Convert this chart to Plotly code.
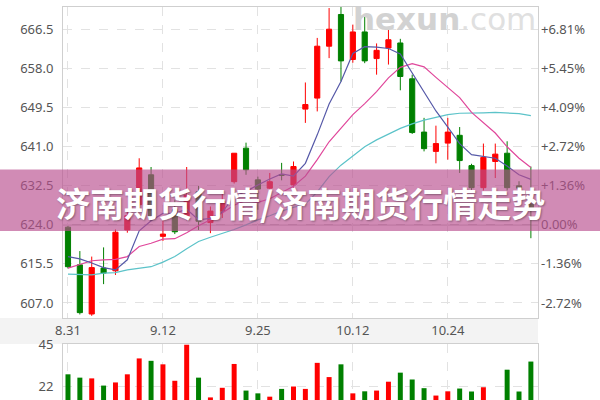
import plotly.graph_objects as go

# ---------------- data ----------------
tick_index = [0, 8, 16, 24, 32]
tick_labels = ["8.31", "9.12", "9.25", "10.12", "10.24"]

opens = [623.5, 615.3, 604.6, 614.6, 614.0, 622.9, 628.4, 634.9, 621.5, 627.3,
         626.0, 631.2, 624.5, 627.0, 633.4, 640.7, 633.8, 632.0, 634.9, 632.7,
         649.2, 651.6, 662.9, 669.8, 660.0, 666.0, 660.2, 662.5, 663.6, 655.8,
         644.2, 640.0, 641.8, 643.5, 636.9, 632.1, 637.8, 639.6, 632.5, 628.5]
highs = [623.8, 618.3, 617.1, 619.1, 623.0, 627.3, 638.5, 636.6, 625.6, 629.5,
         636.6, 632.5, 628.0, 631.3, 639.6, 641.9, 634.5, 635.3, 637.5, 637.8,
         655.0, 664.7, 671.2, 672.0, 667.6, 669.8, 663.5, 666.9, 664.5, 656.7,
         647.3, 645.6, 647.3, 645.3, 637.3, 641.7, 641.7, 642.2, 633.5, 636.7]
lows = [614.5, 604.5, 604.2, 611.1, 613.1, 622.3, 627.5, 624.8, 620.5, 622.0,
        625.0, 622.9, 622.2, 625.5, 633.0, 634.9, 627.3, 631.0, 633.7, 632.0,
        646.2, 648.7, 660.3, 655.2, 659.3, 659.2, 656.7, 658.9, 653.3, 643.8,
        640.0, 637.4, 638.2, 635.3, 631.5, 631.5, 634.2, 631.5, 630.5, 621.1]
closes = [614.9, 604.9, 614.7, 613.5, 622.4, 626.0, 636.4, 625.5, 622.0, 622.5,
          630.5, 624.8, 627.0, 629.1, 639.6, 636.0, 631.8, 633.4, 634.8, 636.7,
          650.2, 662.9, 666.6, 659.7, 666.0, 659.7, 662.0, 664.3, 656.3, 644.1,
          640.6, 641.7, 644.2, 638.0, 632.1, 638.7, 639.4, 632.1, 632.0, 627.5]

ma5 = [617.1, 616.6, 615.7, 614.7, 614.2, 616.4, 622.7, 624.9, 626.5, 626.5,
       627.4, 625.1, 625.4, 626.8, 630.2, 631.3, 632.7, 634.0, 635.1, 634.6,
       637.4, 643.6, 650.3, 655.2, 661.3, 662.8, 662.7, 662.4, 661.2, 657.0,
       653.0, 648.8, 645.3, 641.7, 639.3, 638.9, 638.5, 636.8, 634.9, 633.9]
ma10 = [614.6, 615.4, 616.2, 616.4, 616.5, 617.1, 619.3, 620.0, 620.9, 621.0,
        622.3, 623.8, 625.1, 626.6, 628.3, 629.3, 628.9, 629.7, 631.0, 632.4,
        634.6, 638.2, 642.1, 645.0, 648.0, 650.4, 653.0, 656.0, 658.3, 659.1,
        658.4, 656.1, 653.8, 651.7, 648.5, 646.2, 644.0, 641.0, 638.5, 636.5]
ma20 = [613.3, 613.2, 613.1, 613.5, 613.6, 614.2, 614.5, 614.9, 615.9, 617.1,
        618.8, 620.4, 621.3, 622.1, 623.0, 624.0, 625.1, 626.0, 627.0, 627.8,
        628.5, 631.2, 634.5, 637.0, 639.0, 641.0, 642.5, 643.8, 645.0, 646.0,
        646.8, 647.4, 648.0, 648.3, 648.3, 648.4, 648.5, 648.4, 648.2, 647.8]

volumes = [28.6, 26.8, 26.4, 22.5, 24.2, 28.6, 37.2, 35.9, 34.0, 25.1,
           44.6, 26.8, 16.1, 21.3, 34.2, 19.8, 18.3, 16.5, 20.7, 22.0,
           20.7, 34.8, 27.1, 34.0, 18.3, 19.4, 19.8, 24.6, 29.5, 25.8,
           21.1, 17.1, 19.4, 20.9, 19.3, 21.6, 12.0, 31.1, 19.3, 35.5]
volume_dir = ["g", "g", "r", "g", "r", "r", "r", "g", "r", "r",
              "r", "g", "r", "r", "r", "g", "g", "r", "g", "r",
              "r", "r", "r", "g", "r", "g", "r", "r", "g", "g",
              "g", "r", "r", "g", "g", "r", "r", "g", "g", "g"]

price_ticks = [607.0, 615.5, 624.0, 632.5, 641.0, 649.5, 658.0, 666.5]
pct_labels = ["-2.72%", "-1.36%", "0.00%", "+1.36%", "+2.72%", "+4.09%", "+5.45%", "+6.81%"]
base_price = 624.0
volume_ticks = [22, 45]
title_text = "济南期货行情/济南期货行情走势"

# ---------------- styles ----------------
RED = "#ff0000"
GREEN = "#008000"
GRID = "#e2e2e2"
BORDER = "#cfcfcf"
LABEL = "#555555"
FONT = "Noto Sans"

idx = list(range(len(closes)))

fig = go.Figure()

fig.add_trace(go.Candlestick(
    x=idx, open=opens, high=highs, low=lows, close=closes,
    increasing=dict(line=dict(color=RED, width=1), fillcolor=RED),
    decreasing=dict(line=dict(color=GREEN, width=1), fillcolor=GREEN),
    whiskerwidth=0, xaxis="x", yaxis="y", showlegend=False, hoverinfo="skip"))

for vals, col in [(ma20, "#5cc3c9"), (ma10, "#e0479b"), (ma5, "#5659a8")]:
    fig.add_trace(go.Scatter(x=idx, y=vals, mode="lines",
                             line=dict(color=col, width=1.2),
                             xaxis="x", yaxis="y", showlegend=False, hoverinfo="skip"))

# invisible trace for the right percent axis
fig.add_trace(go.Scatter(x=[idx[0]], y=[base_price], mode="markers",
                         marker=dict(opacity=0), xaxis="x", yaxis="y3",
                         showlegend=False, hoverinfo="skip"))

fig.add_trace(go.Bar(x=idx, y=volumes,
                     marker=dict(color=[RED if d == "r" else GREEN for d in volume_dir], line=dict(width=0)),
                     width=0.42, xaxis="x2", yaxis="y2", showlegend=False, hoverinfo="skip"))

xdom = [63 / 600, 538 / 600]
xr = [-0.42, 39.6]
yr = [603.73, 671.5]

fig.update_layout(
    width=600, height=400, autosize=False,
    margin=dict(l=0, r=0, t=0, b=0, pad=0, autoexpand=False),
    paper_bgcolor="white", plot_bgcolor="white",
    font=dict(family=FONT, size=13, color=LABEL),
    boxgap=0.38,
    xaxis=dict(domain=xdom, range=xr, anchor="y", tickvals=tick_index, ticktext=tick_labels,
               showgrid=True, gridcolor=GRID, griddash="dash", zeroline=False, automargin=False,
               showline=True, mirror=True, linecolor=BORDER, ticks="",
               rangeslider=dict(visible=False), tickfont=dict(size=13, color=LABEL)),
    yaxis=dict(domain=[0.205, 0.9833], range=yr, anchor="x", tickvals=price_ticks,
               tickformat=".1f", showgrid=True, gridcolor=GRID, griddash="dash", automargin=False,
               zeroline=False, showline=True, mirror=True, linecolor=BORDER, ticks="",
               ticklabelstandoff=6, tickfont=dict(size=13, color=LABEL)),
    yaxis3=dict(overlaying="y", side="right", anchor="x", range=yr, tickvals=price_ticks,
                ticktext=pct_labels, showgrid=False, zeroline=False, ticks="", automargin=False,
                ticklabelstandoff=2, tickfont=dict(size=13, color=LABEL)),
    xaxis2=dict(domain=xdom, range=xr, anchor="y2", tickvals=tick_index, showticklabels=False,
                showgrid=True, gridcolor=GRID, griddash="dash", zeroline=False, automargin=False,
                showline=True, mirror=True, linecolor=BORDER, ticks=""),
    yaxis2=dict(domain=[0, 0.14], range=[14.7, 45], anchor="x2", tickvals=volume_ticks,
                showgrid=True, gridcolor=GRID, griddash="dash", zeroline=False, automargin=False,
                showline=True, mirror=True, linecolor=BORDER, ticks="",
                ticklabelstandoff=6, tickfont=dict(size=13, color=LABEL)),
    shapes=[
        dict(type="rect", xref="paper", yref="paper", x0=0, x1=538 / 600,
             y0=1 - 344 / 400, y1=1 - 318 / 400, fillcolor="#f3f3f3",
             line=dict(width=0), layer="below"),
        dict(type="line", xref="x", yref="y", x0=xr[0], x1=xr[1], y0=base_price, y1=base_price,
             line=dict(color="#9a9a9a", width=1), layer="below"),
        dict(type="rect", xref="paper", yref="paper", x0=0, x1=1,
             y0=1 - 231 / 400, y1=1 - 169.5 / 400,
             fillcolor="rgba(185,79,142,0.66)", line=dict(width=0), layer="above"),
    ],
    annotations=[
        dict(text="<b>hexun</b><span style='color:#e0e0e0'>.com</span>", xref="paper", yref="paper",
             x=444 / 600, y=1 - 19 / 400, xanchor="center", yanchor="middle", showarrow=False,
             font=dict(family="DejaVu Sans", size=31, color="#d2d2d2")),
        dict(text="<b>" + title_text + "</b>", xref="paper", yref="paper",
             x=0.5, y=1 - 202 / 400, xanchor="center", yanchor="middle", showarrow=False,
             font=dict(family="Noto Sans CJK SC", size=34, color="white",
                       shadow="1px 1px 2px rgba(0,0,0,0.35)")),
    ],
)

fig.write_html("out.html", config={"responsive": False, "displayModeBar": False},
               post_script="document.body.style.margin='0';document.body.style.overflow='hidden';")
